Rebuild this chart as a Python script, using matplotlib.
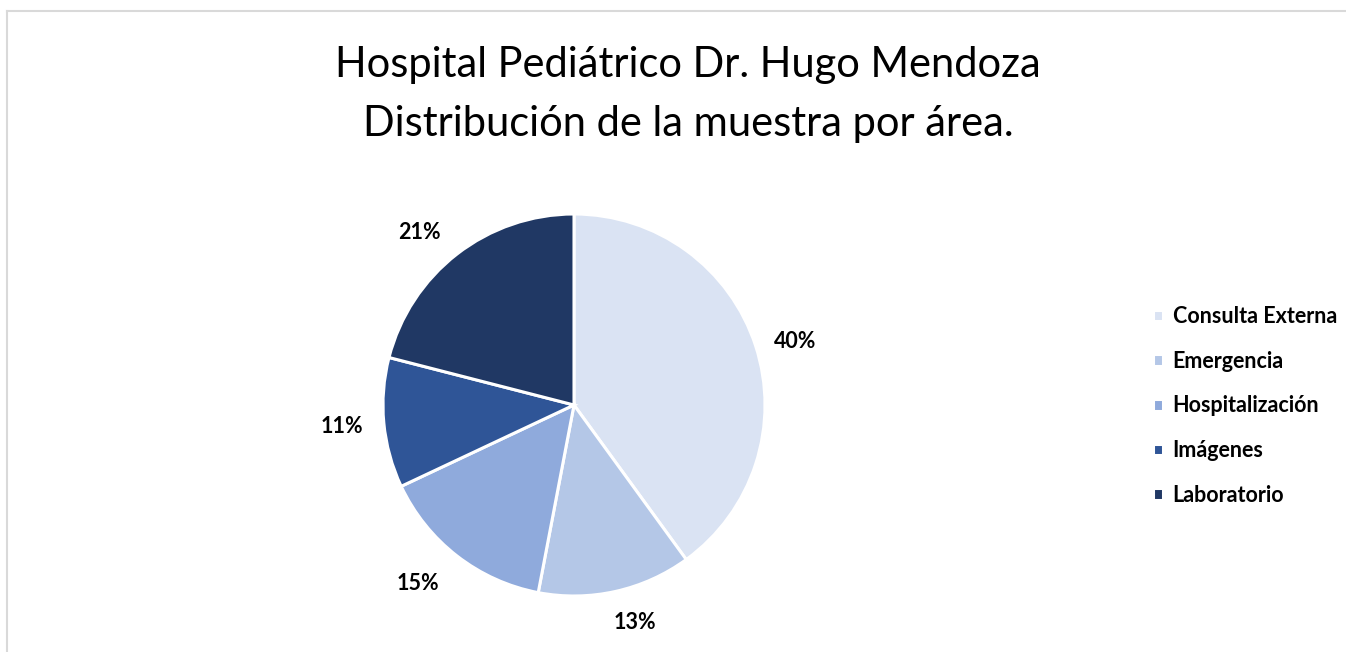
import matplotlib
matplotlib.use("Agg")
import matplotlib.pyplot as plt
from matplotlib.lines import Line2D

# data
areas = ["Consulta Externa", "Emergencia", "Hospitalización", "Imágenes", "Laboratorio"]
shares = [40, 13, 15, 11, 21]
colors = ["#DAE3F3", "#B4C7E7", "#8FAADC", "#2F5597", "#203864"]
title_lines = ["Hospital Pediátrico Dr. Hugo Mendoza", "Distribución de la muestra por área."]
# small nudges (px) so the % labels sit where Excel's best-fit put them
label_nudge = [(0, -9), (10, 10), (-13, 6), (0, 0), (-12, -12)]

W, H = 1346, 652
plt.rcParams["font.family"] = ["Lato", "DejaVu Sans"]

fig = plt.figure(figsize=(W / 100, H / 100), dpi=100)

# pie axes: centre (574, 405) px, radius 191 px
cx, cy, r = 574, 405, 191
ax = fig.add_axes([(cx - r) / W, (H - cy - r) / H, 2 * r / W, 2 * r / H])
wedges, _, autotexts = ax.pie(
    shares, colors=colors, startangle=90, counterclock=False,
    autopct="%1.0f%%", pctdistance=1.22,
    wedgeprops=dict(edgecolor="white", linewidth=2.2),
    textprops=dict(fontsize=15.5, fontweight="bold", color="black"),
)
for t, (dx, dy) in zip(autotexts, label_nudge):
    x, y = t.get_position()
    t.set_position((x + dx / r, y + dy / r))
ax.set_xlim(-1, 1)
ax.set_ylim(-1, 1)
ax.set_aspect("equal")

fig.text(688 / W, 1 - 65 / H, title_lines[0], ha="center", va="center", fontsize=30)
fig.text(688 / W, 1 - 124 / H, title_lines[1], ha="center", va="center", fontsize=30)

fig.legend(wedges, areas, loc="center left", bbox_to_anchor=(1134 / W, 1 - 406 / H),
           frameon=False, handlelength=0.45, handleheight=0.45, handletextpad=0.45,
           labelspacing=1.1, prop=dict(size=15.5, weight="bold"))

# thin grey chart border (left and top edges visible)
fig.add_artist(Line2D([7 / W, 7 / W], [0, 1 - 11 / H], color="#D9D9D9", lw=1.5))
fig.add_artist(Line2D([7 / W, 1], [1 - 11 / H, 1 - 11 / H], color="#D9D9D9", lw=1.5))

fig.savefig("out.png", dpi=100)
